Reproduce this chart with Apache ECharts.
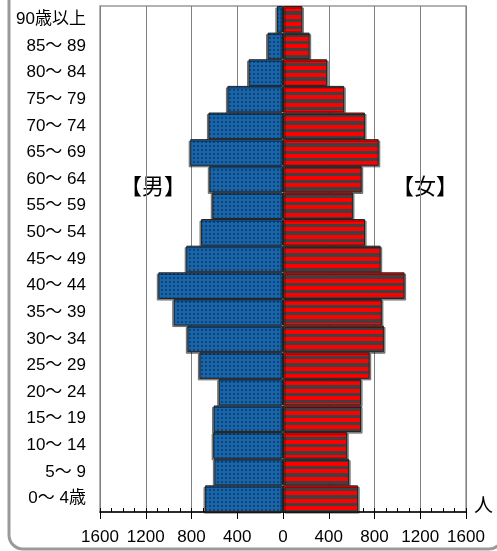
<!DOCTYPE html>
<html>
<head>
<meta charset="utf-8">
<script src="https://cdn.jsdelivr.net/npm/echarts@6/dist/echarts.min.js"></script>
<style>
html,body{margin:0;padding:0;background:#fff;}
#c{width:497px;height:551px;}
</style>
</head>
<body>
<div id="c"></div>
<script>
var categories = ['90歳以上','85～ 89','80～ 84','75～ 79','70～ 74','65～ 69','60～ 64','55～ 59','50～ 54','45～ 49','40～ 44','35～ 39','30～ 34','25～ 29','20～ 24','15～ 19','10～ 14','5～ 9','0～ 4歳'];
var male   = [53, 135, 301, 486, 652, 811, 644, 618, 716, 846, 1090, 955, 836, 731, 562, 607, 610, 600, 681];
var female = [169, 233, 386, 535, 716, 837, 688, 611, 717, 854, 1063, 864, 882, 758, 682, 682, 561, 578, 657];
var xTicks = [-1600, -1200, -800, -400, 0, 400, 800, 1200, 1600];

function bluePattern() {
  var c = document.createElement('canvas');
  c.width = 4; c.height = 4;
  var g = c.getContext('2d');
  g.fillStyle = '#0a68bf'; g.fillRect(0, 0, 4, 4);
  g.fillStyle = '#3a3a3a'; g.fillRect(1, 1, 2, 2);
  return c;
}
function redPattern() {
  var c = document.createElement('canvas');
  c.width = 4; c.height = 22;
  var g = c.getContext('2d');
  g.fillStyle = '#404040'; g.fillRect(0, 0, 4, 22);
  g.fillStyle = '#ff0000';
  g.fillRect(0, 0, 4, 4);
  g.fillRect(0, 7, 4, 4);
  g.fillRect(0, 15, 4, 4);
  return c;
}

var FONT = '"Liberation Sans", "Noto Sans CJK JP", sans-serif';
var chart = echarts.init(document.getElementById('c'), null, {renderer: 'canvas'});
var maleNeg = male.map(function (v) { return -v; });

chart.setOption({
  animation: false,
  backgroundColor: '#fff',
  textStyle: {fontFamily: FONT},
  grid: {left: 100, right: 31, top: 6, bottom: 39, show: true, borderColor: '#999', borderWidth: 1.5, containLabel: false},
  xAxis: [{
    type: 'value', min: -1600, max: 1600, interval: 400,
    axisLine: {show: true, onZero: false, lineStyle: {color: '#000', width: 1.5}},
    axisTick: {show: true, inside: false, length: 7, lineStyle: {color: '#000', width: 1}},
    axisLabel: {show: true, margin: 17, fontSize: 17, color: '#000', fontFamily: FONT,
      formatter: function (v) { return xTicks.indexOf(v) >= 0 ? String(Math.abs(v)) : ''; }},
    splitLine: {show: true, lineStyle: {color: '#808080', width: 1}}
  }, {
    type: 'value', min: -1600, max: 1600, interval: 100, position: 'bottom',
    axisLine: {show: false},
    axisTick: {show: true, inside: true, length: 4, lineStyle: {color: '#000', width: 1}},
    axisLabel: {show: false},
    splitLine: {show: false}
  }],
  yAxis: {
    type: 'category', data: categories, inverse: true,
    axisLine: {show: false}, axisTick: {show: false},
    axisLabel: {margin: 14, fontSize: 17, color: '#000', fontFamily: FONT},
    splitLine: {show: false}
  },
  series: [{
    name: '男', type: 'bar', data: maleNeg, xAxisIndex: 0,
    barCategoryGap: '0%', barGap: '-100%',
    itemStyle: {color: {image: bluePattern(), repeat: 'repeat'}, borderColor: '#222', borderWidth: 1,
      shadowColor: 'rgba(0,0,0,0.45)', shadowOffsetX: -1.5, shadowOffsetY: 1.5, shadowBlur: 0}
  }, {
    name: '女', type: 'bar', data: female, xAxisIndex: 0,
    barCategoryGap: '0%', barGap: '-100%',
    itemStyle: {color: {image: redPattern(), repeat: 'repeat'}, borderColor: '#222', borderWidth: 1,
      shadowColor: 'rgba(0,0,0,0.45)', shadowOffsetX: 1.5, shadowOffsetY: 1.5, shadowBlur: 0}
  }],
  graphic: [
    {type: 'rect', shape: {x: 9, y: -30, width: 494, height: 579, r: 14}, silent: true,
      style: {fill: 'none', stroke: '#9a9a9a', lineWidth: 3}},
    {type: 'text', left: 120, top: 175, style: {text: '【男】', font: '22px "Noto Sans CJK JP"', fill: '#000'}},
    {type: 'text', left: 392, top: 175, style: {text: '【女】', font: '22px "Noto Sans CJK JP"', fill: '#000'}},
    {type: 'text', left: 474, top: 495, style: {text: '人', font: '19px "Noto Sans CJK JP"', fill: '#000'}}
  ]
});
</script>
</body>
</html>
